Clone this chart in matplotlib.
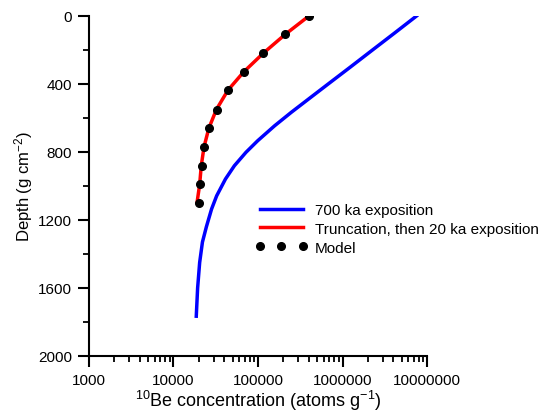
import matplotlib
matplotlib.use("Agg")
import matplotlib.pyplot as plt
from matplotlib.ticker import LogLocator, FixedLocator, NullFormatter

plt.rcParams["font.family"] = ["Liberation Sans", "DejaVu Sans"]
plt.rcParams["mathtext.fontset"] = "custom"
plt.rcParams["mathtext.rm"] = "Liberation Sans"
plt.rcParams["mathtext.it"] = "Liberation Sans:italic"

# 700 ka exposition profile (depth in g cm-2, concentration in atoms/g)
depth_700 = [0, 100, 200, 300, 400, 480, 567, 646, 734, 802, 881, 959, 1058, 1136, 1240, 1330, 1450, 1600, 1766]
conc_700 = [7.5e6, 4.13e6, 2.26e6, 1.24e6, 6.76e5, 4.17e5, 2.47e5, 1.57e5, 9.9e4, 7.2e4, 5.25e4, 4.12e4,
            3.24e4, 2.82e4, 2.45e4, 2.2e4, 2.04e4, 1.93e4, 1.86e4]

# truncation then 20 ka exposition
depth_trunc = [0, 108, 218, 328, 437, 550, 660, 769, 881, 991, 1097]
conc_trunc = [4.0e5, 2.1e5, 1.16e5, 6.8e4, 4.4e4, 3.22e4, 2.62e4, 2.3e4, 2.13e4, 2.04e4, 1.9e4]

# model points
depth_model = [0, 108, 218, 328, 437, 551, 661, 769, 881, 991, 1102]
conc_model = [4.0e5, 2.1e5, 1.16e5, 6.8e4, 4.4e4, 3.25e4, 2.63e4, 2.3e4, 2.15e4, 2.07e4, 2.02e4]

fig = plt.figure(figsize=(5.49, 4.14), dpi=100)
ax = fig.add_axes([0.162, 0.1377, 0.616, 0.8213])

ax.plot(conc_700, depth_700, color="#0000ff", lw=2.5, label="700 ka exposition", zorder=2)
ax.plot(conc_trunc, depth_trunc, color="#ff0000", lw=2.5,
        label="Truncation, then 20 ka exposition", zorder=3)
ax.plot(conc_model, depth_model, "o", color="black", ms=5.5, label="Model", zorder=4)

ax.set_xscale("log")
ax.set_xlim(1000, 1e7)
ax.set_ylim(2000, 0)

ax.xaxis.set_minor_locator(LogLocator(base=10, subs=range(2, 10), numticks=50))
ax.xaxis.set_minor_formatter(NullFormatter())
ax.set_xticks([1000, 10000, 100000, 1000000, 10000000])
ax.set_xticklabels(["1000", "10000", "100000", "1000000", "10000000"])
ax.set_yticks([0, 400, 800, 1200, 1600, 2000])
ax.yaxis.set_minor_locator(FixedLocator([200, 600, 1000, 1400, 1800]))

for s in ["top", "right"]:
    ax.spines[s].set_visible(False)
for s in ["left", "bottom"]:
    ax.spines[s].set_linewidth(1.5)
ax.tick_params(which="major", direction="out", length=8, width=1.5, labelsize=11, pad=4)
ax.tick_params(which="minor", direction="out", length=4.5, width=1.3)

ax.set_xlabel("$^{10}$Be concentration (atoms g$^{-1}$)", fontsize=13, labelpad=1)
ax.set_ylabel("Depth (g cm$^{-2}$)", fontsize=12, labelpad=2)

ax.legend(loc="upper left", bbox_to_anchor=(0.4645, 0.507), bbox_transform=fig.transFigure,
          frameon=False, fontsize=11, borderpad=0, borderaxespad=0,
          handlelength=3.45, handletextpad=0.46, labelspacing=0.31, numpoints=3)

fig.savefig("out.png", dpi=100)
